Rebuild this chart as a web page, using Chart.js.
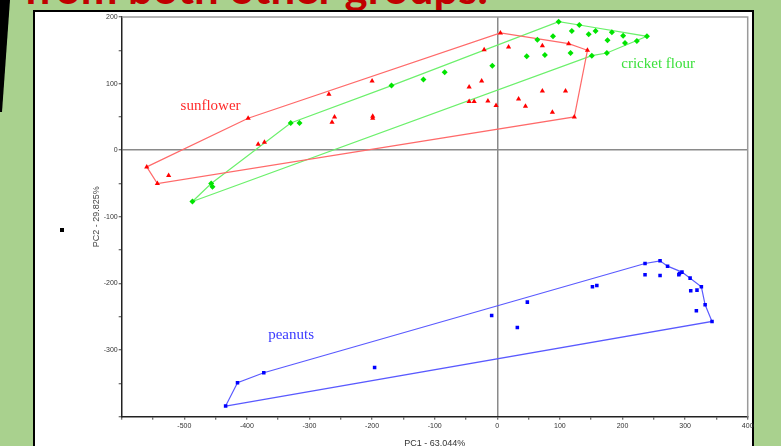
<!DOCTYPE html>
<html>
<head>
<meta charset="utf-8">
<script src="https://cdn.jsdelivr.net/npm/chart.js@4.4.1/dist/chart.umd.min.js"></script>
<style>
  html, body { margin: 0; padding: 0; width: 781px; height: 446px; overflow: hidden; background: #a9d18e; }
  #edge { position: absolute; left: 0; top: 0; width: 10px; height: 112px; background: #000;
          clip-path: polygon(0 0, 100% 0, 20% 100%, 0 100%); }
  #title { position: absolute; left: 0; top: 0; }
  #bullet { position: absolute; left: 60px; top: 228px; width: 4px; height: 4px; background: #000; }
  #panel { position: absolute; left: 33px; top: 10px; width: 717px; height: 470px;
           background: #fff; border: 2px solid #000; }
  #wrap { position: absolute; left: 0; top: 0; width: 781px; height: 470px; }
</style>
</head>
<body>
<div id="edge"></div>
<svg id="title" width="781" height="20">
  <text x="24" y="4" font-family="Lato" font-weight="700" font-size="43" fill="#c00000"
        textLength="464" lengthAdjust="spacingAndGlyphs">from both other groups.</text>
</svg>
<div id="panel"></div>
<div id="bullet"></div>
<div id="wrap"><canvas id="pcaChart" width="781" height="470"></canvas></div>
<script>
'use strict';

// PCA scores (PC1, PC2)
var sunflowerX = [-560, -543, -525, -398, -382, -372, -269, -264, -260, -200, -199, -199, -45, -25, -45,
                  -37, -15, -2, -21, 5, 18, 34, 45, 72, 72, 88, 109, 114, 144, 123];
var sunflowerY = [-25, -50, -38, 48, 9, 12, 84, 42, 50, 104, 51, 48, 95, 104, 73,
                  73, 74, 67, 151, 176, 155, 77, 66, 157, 89, 57, 89, 160, 150, 50];
var sunflowerHull = [0, 3, 19, 27, 28, 29, 1, 0];

var cricketX = [-487, -457, -455, -330, -316, -169, -118, -84, -8, 47, 64, 76, 89, 98,
                117, 119, 131, 146, 151, 157, 175, 176, 183, 201, 204, 223, 239];
var cricketY = [-77, -50, -55, 41, 41, 97, 106, 117, 127, 141, 166, 143, 171, 193,
                146, 179, 188, 174, 142, 179, 146, 165, 177, 172, 161, 164, 171];
var cricketHull = [0, 1, 3, 5, 13, 16, 26, 20, 18, 0];

var peanutX = [-434, -415, -373, -196, -9, 32, 48, 152, 159, 236, 236, 260,
               260, 272, 290, 291, 295, 308, 309, 319, 318, 326, 332, 343];
var peanutY = [-384, -349, -334, -326, -248, -266, -228, -205, -203, -170, -187, -166,
               -188, -174, -187, -185, -183, -192, -211, -210, -241, -205, -232, -257];
var peanutHull = [0, 1, 2, 9, 11, 13, 16, 21, 22, 23, 0];

var groupNames = ['sunflower', 'cricket flour', 'peanuts'];

function points(xs, ys) {
  return xs.map(function(x, i) { return { x: x, y: ys[i] }; });
}
function hullPoints(xs, ys, idx) {
  return idx.map(function(i) { return { x: xs[i], y: ys[i] }; });
}

// group name labels, placed in data units
var groupLabels = [
  { text: groupNames[0], x: -506, y: 66, color: '#ff2a2a' },
  { text: groupNames[1], x: 198, y: 129, color: '#3ce03c' },
  { text: groupNames[2], x: -366, y: -277, color: '#3b3bff' }
];

var framePlugin = {
  id: 'frame',
  beforeDatasetsDraw: function(chart) {
    var a = chart.chartArea, ctx = chart.ctx;
    ctx.save();
    ctx.strokeStyle = '#9a9a9a';
    ctx.lineWidth = 1.5;
    ctx.beginPath();
    ctx.moveTo(a.left, a.top);
    ctx.lineTo(a.right, a.top);
    ctx.lineTo(a.right, a.bottom);
    ctx.stroke();
    ctx.restore();
  },
  afterDatasetsDraw: function(chart) {
    var ctx = chart.ctx, sx = chart.scales.x, sy = chart.scales.y;
    ctx.save();
    ctx.font = '15px "Liberation Serif"';
    ctx.textBaseline = 'middle';
    ctx.textAlign = 'left';
    groupLabels.forEach(function(l) {
      ctx.fillStyle = l.color;
      ctx.fillText(l.text, sx.getPixelForValue(l.x), sy.getPixelForValue(l.y));
    });
    ctx.restore();
  }
};

var tickFont = { family: 'Liberation Sans', size: 7 };
var gridOpts = {
  drawOnChartArea: true,
  color: function(c) { return c.tick && c.tick.value === 0 ? '#8a8a8a' : 'rgba(0,0,0,0)'; },
  lineWidth: 1.5,
  tickColor: '#444',
  tickLength: 3,
  tickWidth: 1
};

new Chart(document.getElementById('pcaChart').getContext('2d'), {
  type: 'scatter',
  data: {
    datasets: [
      { label: 'sunflower', data: points(sunflowerX, sunflowerY), pointStyle: 'triangle',
        pointRadius: 3, backgroundColor: '#ff0000', borderColor: '#ff0000', borderWidth: 0 },
      { label: 'cricket flour', data: points(cricketX, cricketY), pointStyle: 'rectRot',
        pointRadius: 3, backgroundColor: '#00e400', borderColor: '#00e400', borderWidth: 0 },
      { label: 'peanuts', data: points(peanutX, peanutY), pointStyle: 'rect',
        pointRadius: 2.5, backgroundColor: '#0000ff', borderColor: '#0000ff', borderWidth: 0 },
      { label: 'sunflower hull', data: hullPoints(sunflowerX, sunflowerY, sunflowerHull), showLine: true,
        pointRadius: 0, borderColor: '#ff6a6a', borderWidth: 1.2, fill: false },
      { label: 'cricket hull', data: hullPoints(cricketX, cricketY, cricketHull), showLine: true,
        pointRadius: 0, borderColor: '#6cf06c', borderWidth: 1.2, fill: false },
      { label: 'peanut hull', data: hullPoints(peanutX, peanutY, peanutHull), showLine: true,
        pointRadius: 0, borderColor: '#5a5aff', borderWidth: 1.2, fill: false }
    ]
  },
  options: {
    responsive: false,
    animation: false,
    devicePixelRatio: 1,
    layout: { padding: { left: 0, right: 33.3, top: 17, bottom: 0 } },
    plugins: { legend: { display: false }, tooltip: { enabled: false } },
    scales: {
      x: {
        type: 'linear', min: -600, max: 400,
        afterFit: function(s) { s.height = 53.3; },
        ticks: { stepSize: 50, autoSkip: false, maxRotation: 0, padding: 2, color: '#333', font: tickFont,
          callback: function(v) { return (v % 100 === 0 && v !== -600) ? v : ''; } },
        grid: gridOpts,
        border: { display: true, color: '#222', width: 1.5 },
        title: { display: true, text: 'PC1 - 63.044%', color: '#333',
          font: { family: 'Liberation Sans', size: 9 }, padding: { top: 0, bottom: 20.6 } }
      },
      y: {
        type: 'linear', min: -400, max: 200,
        afterFit: function(s) { s.width = 121.7; },
        ticks: { stepSize: 50, autoSkip: false, padding: 1, color: '#333', font: tickFont,
          callback: function(v) { return (v % 100 === 0 && v !== -400) ? v : ''; } },
        grid: gridOpts,
        border: { display: true, color: '#222', width: 1.5 },
        title: { display: true, text: 'PC2 - 29.825%', color: '#444',
          font: { family: 'Liberation Sans', size: 9 }, padding: { top: 91.6, bottom: 0 } }
      }
    }
  },
  plugins: [framePlugin]
});
</script>
</body>
</html>
